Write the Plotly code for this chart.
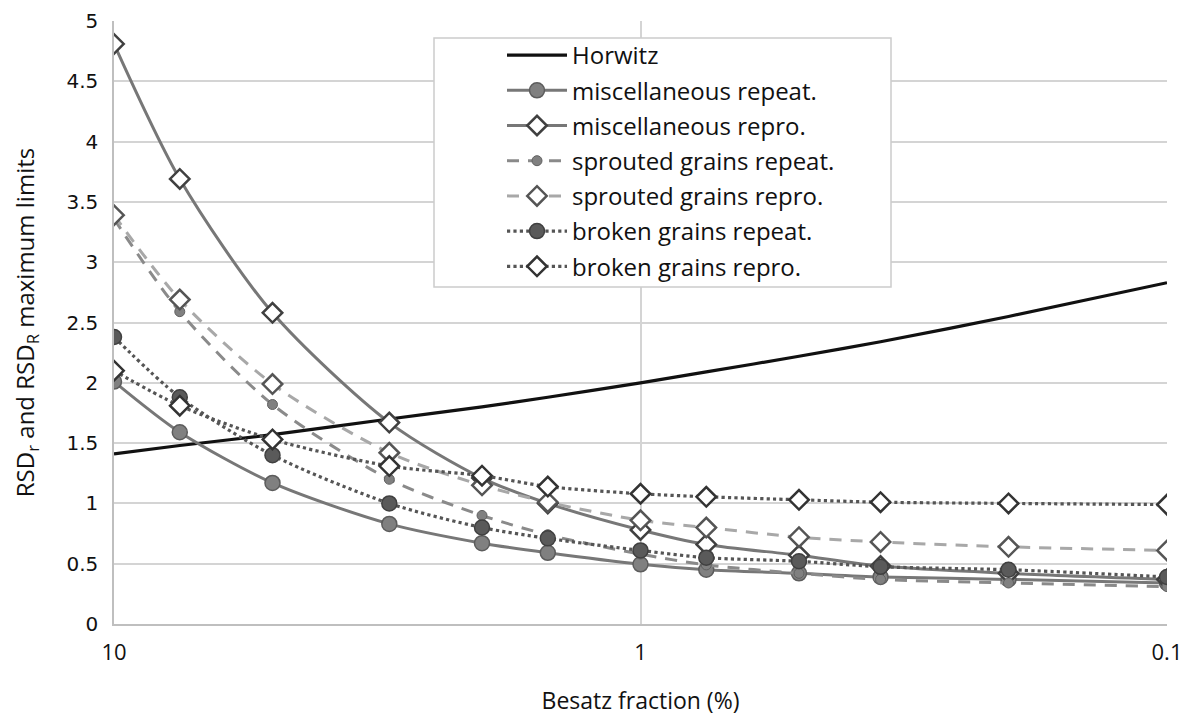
import plotly.graph_objects as go

# Besatz fraction (%)
fraction = [10, 7.5, 5, 3, 2, 1.5, 1, 0.75, 0.5, 0.35, 0.2, 0.1]

horwitz = [1.41, 1.48, 1.57, 1.70, 1.80, 1.88, 2.00, 2.09, 2.22, 2.34, 2.55, 2.83]
misc_repeat = [2.01, 1.59, 1.17, 0.83, 0.67, 0.59, 0.495, 0.45, 0.42, 0.39, 0.37, 0.34]
misc_repro = [4.81, 3.69, 2.58, 1.67, 1.21, 1.00, 0.78, 0.66, 0.57, 0.48, 0.42, 0.37]
sprout_repeat = [3.36, 2.59, 1.82, 1.20, 0.90, 0.74, 0.58, 0.49, 0.42, 0.37, 0.34, 0.31]
sprout_repro = [3.39, 2.69, 1.99, 1.42, 1.15, 1.01, 0.86, 0.80, 0.72, 0.68, 0.64, 0.61]
broken_repeat = [2.38, 1.88, 1.40, 1.00, 0.80, 0.71, 0.61, 0.55, 0.52, 0.475, 0.45, 0.39]
broken_repro = [2.10, 1.81, 1.53, 1.31, 1.23, 1.14, 1.08, 1.055, 1.03, 1.01, 1.00, 0.99]

series_names = ["Horwitz", "miscellaneous repeat.", "miscellaneous repro.",
                "sprouted grains repeat.", "sprouted grains repro.",
                "broken grains repeat.", "broken grains repro."]

styles = [
    dict(line=dict(color="#111111", width=3.2, dash="solid"), marker=None),
    dict(line=dict(color="#777777", width=3, dash="solid"),
         marker=dict(symbol="circle", size=15, color="#808080", line=dict(color="#5c5c5c", width=1.5))),
    dict(line=dict(color="#777777", width=3, dash="solid"),
         marker=dict(symbol="diamond", size=15, color="white", line=dict(color="#404040", width=2.5))),
    dict(line=dict(color="#8a8a8a", width=3, dash="12px,9px"),
         marker=dict(symbol="circle", size=10, color="#808080", line=dict(color="#606060", width=1))),
    dict(line=dict(color="#a8a8a8", width=3, dash="12px,9px"),
         marker=dict(symbol="diamond", size=15, color="white", line=dict(color="#555555", width=2.5))),
    dict(line=dict(color="#555555", width=3.2, dash="dot"),
         marker=dict(symbol="circle", size=15, color="#5a5a5a", line=dict(color="#404040", width=1.5))),
    dict(line=dict(color="#555555", width=3.2, dash="dot"),
         marker=dict(symbol="diamond", size=15, color="white", line=dict(color="#333333", width=2.5))),
]

data = [horwitz, misc_repeat, misc_repro, sprout_repeat, sprout_repro, broken_repeat, broken_repro]

fig = go.Figure()
for i, (name, ys, st) in enumerate(zip(series_names, data, styles)):
    kw = dict(x=fraction, y=ys, name=name, legendgroup=f"g{i}",
              line=dict(shape="spline", smoothing=0.8, **st["line"]))
    if st["marker"] is None:
        kw["mode"] = "lines"
    else:
        kw["mode"] = "lines+markers"
        kw["marker"] = st["marker"]
    fig.add_trace(go.Scatter(**kw))

# legend frame (opaque white box)
fig.add_shape(type="rect", xref="paper", yref="paper",
              x0=(434 - 114) / 1053, x1=(891 - 114) / 1053,
              y0=(624 - 287) / 603, y1=(624 - 38) / 603,
              fillcolor="white", line=dict(color="#cccccc", width=1.5), layer="above")

fig.update_layout(
    width=1191, height=717,
    margin=dict(l=114, r=24, t=21, b=93, autoexpand=False),
    paper_bgcolor="white", plot_bgcolor="white",
    font=dict(family="Open Sans", color="#111111"),
    showlegend=True,
    legend=dict(
        x=(502 - 114) / 1053, y=(624 - 33) / 603, xanchor="left", yanchor="top",
        bgcolor="rgba(0,0,0,0)", borderwidth=0,
        font=dict(size=24, family="Open Sans", color="#111111"),
        tracegroupgap=1, itemwidth=60,
    ),
    xaxis=dict(
        type="log", range=[1, -1], automargin=False,
        tickvals=[10, 1, 0.1], ticktext=["10", "1", "0.1"],
        showgrid=True, gridcolor="#d4d4d4", gridwidth=1.5,
        showline=True, linecolor="#bfbfbf", linewidth=1.5,
        ticks="", ticklabelstandoff=8,
        tickfont=dict(size=22, family="Open Sans", color="#111111"),
        title=dict(text="Besatz fraction (%)", font=dict(size=23, family="Open Sans"), standoff=28),
        zeroline=False,
    ),
    yaxis=dict(
        range=[0, 5], dtick=0.5, tick0=0, automargin=False,
        showgrid=True, gridcolor="#d4d4d4", gridwidth=1.5,
        showline=True, linecolor="#bfbfbf", linewidth=1.5,
        ticks="", ticklabelstandoff=10,
        tickfont=dict(size=20, family="DejaVu Sans", color="#111111"),
        title=dict(text="RSD<sub>r</sub> and RSD<sub>R</sub> maximum limits",
                   font=dict(size=24, family="Open Sans"), standoff=25),
        zeroline=False,
    ),
)

fig.write_html("out.html", config={"displayModeBar": False},
               post_script="document.body.style.margin='0';document.body.style.overflow='hidden';")
